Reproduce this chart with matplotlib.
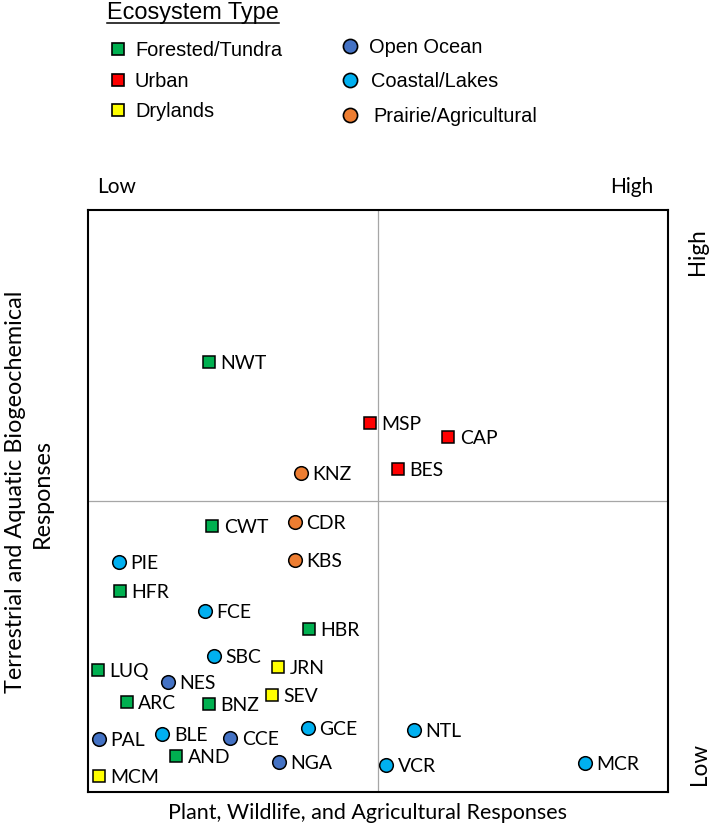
import matplotlib
matplotlib.use("Agg")
import matplotlib.pyplot as plt

# ---------------- data ----------------
sites = ["NWT", "MSP", "CAP", "BES", "KNZ", "CWT", "CDR", "PIE", "KBS", "HFR",
         "FCE", "HBR", "SBC", "JRN", "LUQ", "NES", "ARC", "BNZ", "SEV", "GCE",
         "NTL", "PAL", "BLE", "CCE", "AND", "NGA", "VCR", "MCR", "MCM"]
plant_resp = [2.09, 4.86, 6.21, 5.34, 3.67, 2.14, 3.57, 0.53, 3.57, 0.55,
              2.02, 3.81, 2.17, 3.28, 0.17, 1.38, 0.67, 2.09, 3.17, 3.79,
              5.62, 0.19, 1.28, 2.45, 1.52, 3.29, 5.14, 8.57, 0.19]
biogeo_resp = [7.39, 6.34, 6.10, 5.55, 5.48, 4.57, 4.64, 3.95, 3.99, 3.45,
               3.11, 2.80, 2.34, 2.15, 2.10, 1.89, 1.55, 1.51, 1.67, 1.10,
               1.07, 0.91, 1.00, 0.93, 0.62, 0.52, 0.46, 0.50, 0.27]
site_type = ["Forested/Tundra", "Urban", "Urban", "Urban", "Prairie/Agricultural",
             "Forested/Tundra", "Prairie/Agricultural", "Coastal/Lakes",
             "Prairie/Agricultural", "Forested/Tundra", "Coastal/Lakes",
             "Forested/Tundra", "Coastal/Lakes", "Drylands", "Forested/Tundra",
             "Open Ocean", "Forested/Tundra", "Forested/Tundra", "Drylands",
             "Coastal/Lakes", "Coastal/Lakes", "Open Ocean", "Coastal/Lakes",
             "Open Ocean", "Forested/Tundra", "Open Ocean", "Coastal/Lakes",
             "Coastal/Lakes", "Drylands"]
eco_types = ["Forested/Tundra", "Urban", "Drylands",
             "Open Ocean", "Coastal/Lakes", "Prairie/Agricultural"]
eco_colors = ["#00B050", "#FF0000", "#FFFF00", "#4472C4", "#00B0F0", "#ED7D31"]
eco_markers = ["s", "s", "s", "o", "o", "o"]

W, H = 709, 832
fig = plt.figure(figsize=(W / 100, H / 100), dpi=100)
renderer = fig.canvas.get_renderer()

LABEL_FONT = "Lato"
LEG_FONT = "Liberation Sans"


def fit_size(s, family, target_px):
    t = fig.text(0, 0, s, fontsize=10, family=family)
    w = t.get_window_extent(renderer).width
    t.remove()
    return 10 * target_px / w


# overlay axes in pixel coordinates for legend/labels
lax = fig.add_axes([0, 0, 1, 1])
lax.set_xlim(0, W)
lax.set_ylim(H, 0)
lax.axis("off")

# main axes: frame 88..668 x, 210..792 y
ax = fig.add_axes([88 / W, 1 - 792 / H, 580 / W, 582 / H])
ax.set_xlim(0, 10)
ax.set_ylim(0, 10)
ax.set_xticks([])
ax.set_yticks([])
for sp in ax.spines.values():
    sp.set_linewidth(1.5)
    sp.set_color("black")
ax.axvline(5, color="#A6A6A6", lw=0.9, zorder=1)
ax.axhline(5, color="#A6A6A6", lw=0.9, zorder=1)

lab_size = fit_size("MCR", LABEL_FONT, 43)
cap_px = 0.72 * lab_size * 100 / 72
style = {t: (c, m) for t, c, m in zip(eco_types, eco_colors, eco_markers)}
for s, xv, yv, tp in zip(sites, plant_resp, biogeo_resp, site_type):
    c, m = style[tp]
    ms = 8.3 if m == "s" else 9.8
    ax.plot(xv, yv, marker=m, ms=ms, mfc=c, mec="black", mew=1.1,
            linestyle="none", zorder=3)
    ax.annotate(s, (xv, yv), xytext=(8.3, -cap_px / 2 * 0.72),
                textcoords="offset points", va="baseline", ha="left",
                fontsize=lab_size, family=LABEL_FONT, color="black", zorder=4)

# axis titles
xl_size = fit_size("Plant, Wildlife, and Agricultural Responses", LABEL_FONT, 399)
lax.text(367.5, 819, "Plant, Wildlife, and Agricultural Responses",
         ha="center", va="baseline", fontsize=xl_size, family=LABEL_FONT)
yl_size = fit_size("Terrestrial and Aquatic Biogeochemical", LABEL_FONT, 403)
lax.text(22, 491.5, "Terrestrial and Aquatic Biogeochemical", rotation=90,
         rotation_mode="anchor", ha="center", va="baseline",
         fontsize=yl_size, family=LABEL_FONT)
lax.text(49, 494, "Responses", rotation=90, rotation_mode="anchor",
         ha="center", va="baseline", fontsize=yl_size, family=LABEL_FONT)

# Low / High markers
lh_size = fit_size("Low", LABEL_FONT, 39)
lax.text(97, 193, "Low", ha="left", va="baseline", fontsize=lh_size, family=LABEL_FONT)
lax.text(653, 193, "High", ha="right", va="baseline", fontsize=lh_size, family=LABEL_FONT)
rl_size = fit_size("Low", LABEL_FONT, 42)
lax.text(704, 252, "High", rotation=90, rotation_mode="anchor", ha="center",
         va="baseline", fontsize=rl_size, family=LABEL_FONT)
lax.text(706, 764, "Low", rotation=90, rotation_mode="anchor", ha="center",
         va="baseline", fontsize=rl_size, family=LABEL_FONT)

# legend
title_size = fit_size("Ecosystem Type", LEG_FONT, 172)
lax.text(107, 19.5, "Ecosystem Type", ha="left", va="baseline",
         fontsize=title_size, family=LEG_FONT)
lax.plot([107, 279], [23, 23], color="black", lw=1.1)
leg_size = fit_size("Forested/Tundra", LEG_FONT, 148)
leg_cap = 0.716 * leg_size * 100 / 72
leg_marker_pos = [(118, 49), (118, 80), (118, 110), (350, 46), (350, 80), (350, 115)]
leg_text_x = [135, 135, 135, 369, 371, 373]
for (mx, my), tx, t, c, m in zip(leg_marker_pos, leg_text_x, eco_types, eco_colors, eco_markers):
    lax.plot(mx, my, marker=m, ms=9.3 if m == "s" else 10.2, mfc=c, mec="black",
             mew=1.2, linestyle="none")
    lax.text(tx, my + leg_cap / 2, t, ha="left", va="baseline",
             fontsize=leg_size, family=LEG_FONT)

fig.savefig("out.png", dpi=100)
